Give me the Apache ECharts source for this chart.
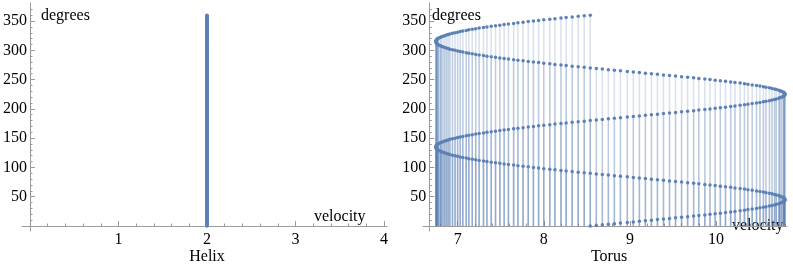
<!DOCTYPE html>
<html>
<head>
<meta charset="utf-8">
<script src="https://cdn.jsdelivr.net/npm/echarts@6/dist/echarts.min.js"></script>
<style>
html,body{margin:0;padding:0;background:#fff;}
#chart{width:793px;height:264px;}
</style>
</head>
<body>
<div id="chart"></div>
<script>
// angle samples (degrees), one point per degree
const degrees = [
0,1,2,3,4,5,6,7,8,9,10,11,12,13,14,15,16,17,18,19,
20,21,22,23,24,25,26,27,28,29,30,31,32,33,34,35,36,37,38,39,
40,41,42,43,44,45,46,47,48,49,50,51,52,53,54,55,56,57,58,59,
60,61,62,63,64,65,66,67,68,69,70,71,72,73,74,75,76,77,78,79,
80,81,82,83,84,85,86,87,88,89,90,91,92,93,94,95,96,97,98,99,
100,101,102,103,104,105,106,107,108,109,110,111,112,113,114,115,116,117,118,119,
120,121,122,123,124,125,126,127,128,129,130,131,132,133,134,135,136,137,138,139,
140,141,142,143,144,145,146,147,148,149,150,151,152,153,154,155,156,157,158,159,
160,161,162,163,164,165,166,167,168,169,170,171,172,173,174,175,176,177,178,179,
180,181,182,183,184,185,186,187,188,189,190,191,192,193,194,195,196,197,198,199,
200,201,202,203,204,205,206,207,208,209,210,211,212,213,214,215,216,217,218,219,
220,221,222,223,224,225,226,227,228,229,230,231,232,233,234,235,236,237,238,239,
240,241,242,243,244,245,246,247,248,249,250,251,252,253,254,255,256,257,258,259,
260,261,262,263,264,265,266,267,268,269,270,271,272,273,274,275,276,277,278,279,
280,281,282,283,284,285,286,287,288,289,290,291,292,293,294,295,296,297,298,299,
300,301,302,303,304,305,306,307,308,309,310,311,312,313,314,315,316,317,318,319,
320,321,322,323,324,325,326,327,328,329,330,331,332,333,334,335,336,337,338,339,
340,341,342,343,344,345,346,347,348,349,350,351,352,353,354,355,356,357,358,359,
360
];

// helix: same velocity at every angle
const helixVelocity = 2;

// torus: velocity, one value per degree
const torusVelocity = [
// 0..45
8.54,8.61,8.68,8.75,8.82,8.89,8.97,9.04,9.11,9.18,
9.25,9.32,9.39,9.46,9.53,9.60,9.67,9.74,9.80,9.87,
9.93,9.99,10.05,10.11,10.17,10.22,10.28,10.33,10.37,10.42,
10.47,10.51,10.55,10.58,10.62,10.65,10.68,10.70,10.73,10.74,
10.76,10.78,10.79,10.79,10.80,10.80,
// 46..90
10.80,10.79,10.79,10.78,10.76,10.74,10.73,10.70,10.68,10.65,
10.62,10.58,10.55,10.51,10.47,10.42,10.37,10.33,10.28,10.22,
10.17,10.11,10.05,9.99,9.93,9.87,9.80,9.74,9.67,9.60,
9.53,9.46,9.39,9.32,9.25,9.18,9.11,9.04,8.97,8.89,
8.82,8.75,8.68,8.61,8.54,
// 91..135
8.47,8.40,8.33,8.26,8.20,8.13,8.07,8.00,7.94,7.88,
7.82,7.76,7.70,7.65,7.59,7.54,7.49,7.44,7.39,7.34,
7.30,7.25,7.21,7.17,7.13,7.10,7.06,7.03,7.00,6.97,
6.94,6.91,6.89,6.87,6.85,6.83,6.81,6.80,6.78,6.77,
6.76,6.76,6.75,6.75,6.75,
// 136..180
6.75,6.75,6.76,6.76,6.77,6.78,6.80,6.81,6.83,6.85,
6.87,6.89,6.91,6.94,6.97,7.00,7.03,7.06,7.10,7.13,
7.17,7.21,7.25,7.30,7.34,7.39,7.44,7.49,7.54,7.59,
7.65,7.70,7.76,7.82,7.88,7.94,8.00,8.07,8.13,8.20,
8.26,8.33,8.40,8.47,8.54,
// 181..225
8.61,8.68,8.75,8.82,8.89,8.97,9.04,9.11,9.18,9.25,
9.32,9.39,9.46,9.53,9.60,9.67,9.74,9.80,9.87,9.93,
9.99,10.05,10.11,10.17,10.22,10.28,10.33,10.37,10.42,10.47,
10.51,10.55,10.58,10.62,10.65,10.68,10.70,10.73,10.74,10.76,
10.78,10.79,10.79,10.80,10.80,
// 226..270
10.80,10.79,10.79,10.78,10.76,10.74,10.73,10.70,10.68,10.65,
10.62,10.58,10.55,10.51,10.47,10.42,10.37,10.33,10.28,10.22,
10.17,10.11,10.05,9.99,9.93,9.87,9.80,9.74,9.67,9.60,
9.53,9.46,9.39,9.32,9.25,9.18,9.11,9.04,8.97,8.89,
8.82,8.75,8.68,8.61,8.54,
// 271..315
8.47,8.40,8.33,8.26,8.20,8.13,8.07,8.00,7.94,7.88,
7.82,7.76,7.70,7.65,7.59,7.54,7.49,7.44,7.39,7.34,
7.30,7.25,7.21,7.17,7.13,7.10,7.06,7.03,7.00,6.97,
6.94,6.91,6.89,6.87,6.85,6.83,6.81,6.80,6.78,6.77,
6.76,6.76,6.75,6.75,6.75,
// 316..360
6.75,6.75,6.76,6.76,6.77,6.78,6.80,6.81,6.83,6.85,
6.87,6.89,6.91,6.94,6.97,7.00,7.03,7.06,7.10,7.13,
7.17,7.21,7.25,7.30,7.34,7.39,7.44,7.49,7.54,7.59,
7.65,7.70,7.76,7.82,7.88,7.94,8.00,8.07,8.13,8.20,
8.26,8.33,8.40,8.47,8.54
];

// ticks
const degreeTicks = [50,100,150,200,250,300,350];
const degreeMinorTicks = [10,20,30,40,60,70,80,90,110,120,130,140,160,170,180,190,
  210,220,230,240,260,270,280,290,310,320,330,340,360,370];
const helixTicks = [1,2,3,4];
const helixMinorTicks = [0.2,0.4,0.6,0.8,1.2,1.4,1.6,1.8,2.2,2.4,2.6,2.8,3.2,3.4,3.6,3.8];
const torusTicks = [7,8,9,10];
const torusMinorTicks = [6.8,7.2,7.4,7.6,7.8,8.2,8.4,8.6,8.8,9.2,9.4,9.6,9.8,10.2,10.4,10.6,10.8];

const BLUE = "#5E81B5";
const STEM = "rgba(94,129,181,0.24)";
const AXIS = "#9a9a9a";
const FONT = "'Liberation Serif','Times New Roman',serif";

function majorX(grid, min, max, ticks, onZeroIdx){
    return {
        type:"value", gridIndex:grid, min:min, max:max, position:"bottom",
        axisLine:{show:true, onZero:true, onZeroAxisIndex:onZeroIdx, lineStyle:{color:AXIS, width:1}},
        axisTick:{show:true, inside:true, length:5, customValues:ticks, lineStyle:{color:AXIS}},
        axisLabel:{show:true, customValues:ticks, margin:1, color:"#000", fontFamily:FONT, fontSize:16},
        splitLine:{show:false}
    };
}

function minorX(grid, min, max, ticks, onZeroIdx){
    return {
        type:"value", gridIndex:grid, min:min, max:max, position:"bottom",
        axisLine:{show:false, onZero:true, onZeroAxisIndex:onZeroIdx},
        axisTick:{show:true, inside:true, length:2.5, customValues:ticks, lineStyle:{color:AXIS}},
        axisLabel:{show:false},
        splitLine:{show:false}
    };
}

function majorY(grid, offset){
    return {
        type:"value", gridIndex:grid, min:-8.5, max:380.8, position:"left", offset:offset,
        axisLine:{show:true, onZero:false, lineStyle:{color:AXIS, width:1}},
        axisTick:{show:true, inside:true, length:5, customValues:degreeTicks, lineStyle:{color:AXIS}},
        axisLabel:{show:true, customValues:degreeTicks, margin:3, color:"#000", fontFamily:FONT, fontSize:16},
        splitLine:{show:false}
    };
}

function minorY(grid, offset){
    return {
        type:"value", gridIndex:grid, min:-8.5, max:380.8, position:"left", offset:offset,
        axisLine:{show:false, onZero:false},
        axisTick:{show:true, inside:true, length:2.5, customValues:degreeMinorTicks, lineStyle:{color:AXIS}},
        axisLabel:{show:false},
        splitLine:{show:false}
    };
}

const helixData = degrees.map(d => [helixVelocity, d]);
const torusData = degrees.map((d, i) => [torusVelocity[i], d]);

function label(text, x, y, align, valign){
    return {
        type:"text", x:x, y:y, silent:true,
        style:{text:text, font:"16px " + FONT, fill:"#000", align:align, verticalAlign:valign}
    };
}

const chart = echarts.init(document.getElementById("chart"), null, {renderer:"canvas"});

chart.setOption({
    animation:false,
    backgroundColor:"#fff",
    grid:[
        {left:22, top:3, width:365, height:228, outerBoundsMode:"none"},
        {left:423, top:3, width:364, height:228, outerBoundsMode:"none"}
    ],
    xAxis:[
        majorX(0, -0.0904, 4.034, helixTicks, 0),
        minorX(0, -0.0904, 4.034, helixMinorTicks, 0),
        majorX(1, 6.598, 10.824, torusTicks, 2),
        minorX(1, 6.598, 10.824, torusMinorTicks, 2)
    ],
    yAxis:[
        majorY(0, -8),
        minorY(0, -8),
        majorY(1, -6.3),
        minorY(1, -6.3)
    ],
    series:[
        {
            type:"bar", xAxisIndex:0, yAxisIndex:0, data:helixData,
            barWidth:1.5, itemStyle:{color:STEM}, silent:true
        },
        {
            type:"scatter", xAxisIndex:0, yAxisIndex:0, data:helixData,
            symbolSize:3.5, itemStyle:{color:BLUE, opacity:1}, silent:true, z:3
        },
        {
            type:"bar", xAxisIndex:2, yAxisIndex:2, data:torusData,
            barWidth:1.5, itemStyle:{color:STEM}, silent:true
        },
        {
            type:"scatter", xAxisIndex:2, yAxisIndex:2, data:torusData,
            symbolSize:3.5, itemStyle:{color:BLUE, opacity:1}, silent:true, z:3
        }
    ],
    graphic:[
        label("degrees", 41, 16, "left", "middle"),
        label("velocity", 314, 217, "left", "middle"),
        label("Helix", 207, 257, "center", "middle"),
        label("degrees", 432, 16, "left", "middle"),
        label("velocity", 732, 226, "left", "middle"),
        label("Torus", 609, 257, "center", "middle")
    ]
});
</script>
</body>
</html>
